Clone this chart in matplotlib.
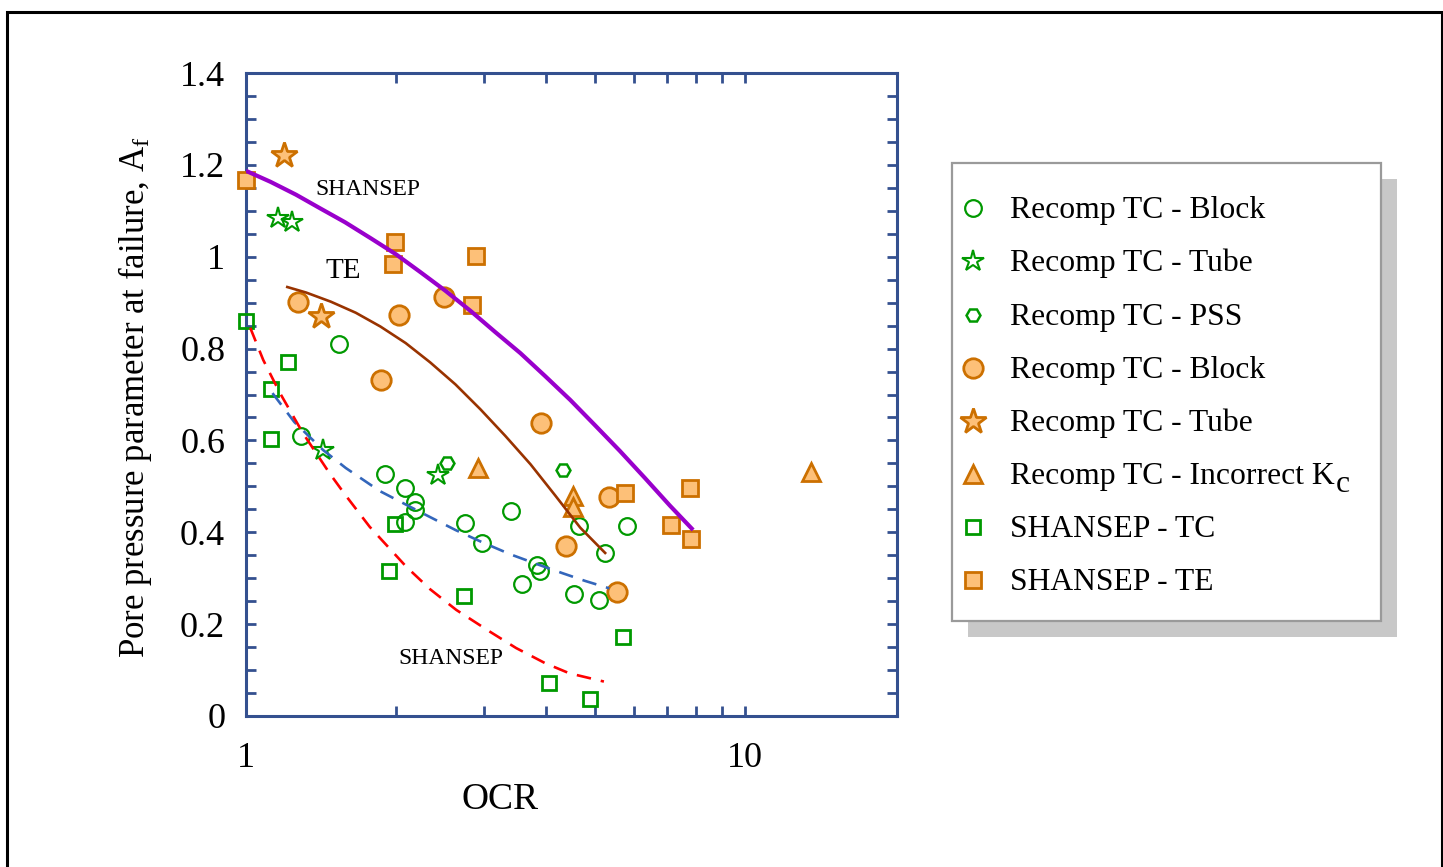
import matplotlib
matplotlib.use('Agg')
import matplotlib.pyplot as plt
from matplotlib.patches import Rectangle
from matplotlib.ticker import FixedLocator, FixedFormatter, NullFormatter

plt.rcParams['font.family'] = ['Liberation Serif', 'DejaVu Serif']
plt.rcParams['mathtext.fontset'] = 'custom'
plt.rcParams['mathtext.rm'] = 'Liberation Serif'
plt.rcParams['mathtext.it'] = 'Liberation Serif:italic'

# ---------------- data (OCR, Af) ----------------
tc_block_ocr = [1.537, 1.288, 1.902, 2.086, 2.178, 2.178, 2.086, 2.754, 2.97,
                3.40, 3.83, 3.88, 3.58, 4.65, 5.80, 5.25, 4.55, 5.10]
tc_block_af = [0.810, 0.610, 0.526, 0.496, 0.467, 0.449, 0.422, 0.421, 0.377,
               0.446, 0.329, 0.316, 0.287, 0.414, 0.414, 0.354, 0.266, 0.253]

tc_tube_ocr = [1.16, 1.234, 1.428, 2.43]
tc_tube_af = [1.085, 1.075, 0.579, 0.525]

tc_pss_ocr = [2.53, 4.32]
tc_pss_af = [0.550, 0.536]

te_block_ocr = [1.273, 2.026, 2.49, 1.862, 3.90, 5.35, 4.38, 5.54]
te_block_af = [0.901, 0.873, 0.913, 0.732, 0.637, 0.477, 0.370, 0.271]

te_tube_ocr = [1.193, 1.417]
te_tube_af = [1.221, 0.871]

kc_ocr = [2.92, 4.53, 4.53, 13.6]
kc_af = [0.539, 0.479, 0.454, 0.532]

sh_tc_ocr = [1.0, 1.215, 1.122, 1.122, 1.986, 1.932, 2.74, 4.05, 5.69, 4.89]
sh_tc_af = [0.861, 0.770, 0.712, 0.604, 0.417, 0.316, 0.262, 0.071, 0.171, 0.036]

sh_te_ocr = [1.0, 1.986, 1.971, 2.89, 2.84, 5.75, 7.75, 7.10, 7.79]
sh_te_af = [1.167, 1.033, 0.984, 1.002, 0.895, 0.485, 0.496, 0.415, 0.385]

# trend curves
sh_te_curve_ocr = [1.0, 1.12, 1.26, 1.41, 1.58, 1.78, 2.0, 2.24, 2.51, 2.82,
                   3.16, 3.55, 3.98, 4.47, 5.01, 5.62, 6.31, 7.08, 7.88]
sh_te_curve_af = [1.187, 1.163, 1.135, 1.105, 1.075, 1.04, 1.005, 0.966, 0.926,
                  0.882, 0.836, 0.79, 0.74, 0.688, 0.633, 0.577, 0.518, 0.458, 0.405]

te_curve_ocr = [1.21, 1.32, 1.48, 1.66, 1.86, 2.09, 2.34, 2.63, 2.95, 3.31,
                3.72, 4.17, 4.68, 5.25]
te_curve_af = [0.934, 0.922, 0.902, 0.878, 0.848, 0.812, 0.77, 0.722, 0.668,
               0.61, 0.548, 0.48, 0.41, 0.355]

tc_curve_ocr = [1.13, 1.25, 1.428, 1.585, 1.853, 2.264, 2.63, 2.98, 3.39,
                3.87, 4.31, 4.79, 5.35]
tc_curve_af = [0.703, 0.64, 0.579, 0.54, 0.49, 0.441, 0.405, 0.378, 0.352,
               0.329, 0.311, 0.294, 0.278]

sh_tc_curve_ocr = [1.02, 1.083, 1.134, 1.17, 1.302, 1.472, 1.585, 1.77, 2.096,
                   2.34, 2.64, 3.09, 3.48, 3.98, 4.45, 5.22]
sh_tc_curve_af = [0.845, 0.775, 0.732, 0.703, 0.615, 0.528, 0.48, 0.412, 0.325,
                  0.276, 0.231, 0.183, 0.148, 0.115, 0.093, 0.075]

x_major = [1, 10]
x_major_labels = ['1', '10']
x_minor = [2, 3, 4, 5, 6, 7, 8, 9]
y_major = [0, 0.2, 0.4, 0.6, 0.8, 1.0, 1.2, 1.4]
y_major_labels = ['0', '0.2', '0.4', '0.6', '0.8', '1', '1.2', '1.4']
y_minor = [i * 0.05 for i in range(29)]

legend_labels = ['Recomp TC - Block', 'Recomp TC - Tube', 'Recomp TC - PSS',
                 'Recomp TC - Block', 'Recomp TC - Tube', 'Recomp TC - Incorrect K',
                 'SHANSEP - TC', 'SHANSEP - TE']

# ---------------- styles ----------------
GREEN = '#009900'
OEDGE = '#CC7000'
OFILL = '#FDC078'
AXBLUE = '#34508F'

styles = [
    dict(marker='o', ms=12, mfc='none', mec=GREEN, mew=1.6),
    dict(marker='*', ms=16, mfc='none', mec=GREEN, mew=1.5),
    dict(marker='H', ms=10, mfc='none', mec=GREEN, mew=1.8),
    dict(marker='o', ms=14, mfc=OFILL, mec=OEDGE, mew=2.0),
    dict(marker='*', ms=19, mfc=OFILL, mec=OEDGE, mew=2.0),
    dict(marker='^', ms=13, mfc=OFILL, mec=OEDGE, mew=2.0),
    dict(marker='s', ms=10, mfc='none', mec=GREEN, mew=2.0),
    dict(marker='s', ms=11, mfc=OFILL, mec=OEDGE, mew=2.0),
]
series = [(tc_block_ocr, tc_block_af), (tc_tube_ocr, tc_tube_af), (tc_pss_ocr, tc_pss_af),
          (te_block_ocr, te_block_af), (te_tube_ocr, te_tube_af), (kc_ocr, kc_af),
          (sh_tc_ocr, sh_tc_af), (sh_te_ocr, sh_te_af)]

W, H = 1443, 867
fig = plt.figure(figsize=(W / 100, H / 100), dpi=100)
fig.patch.set_facecolor('white')

# outer frame
fig.patches.append(Rectangle((7 / W, -0.05), (1442 - 7) / W, 1.05 - 12 / H,
                             transform=fig.transFigure, fill=False,
                             edgecolor='black', lw=2.2, zorder=0))

ax = fig.add_axes([246 / W, 1 - 716 / H, 651 / W, 643 / H])
ax.set_xscale('log')
ax.set_xlim(1, 20.2)
ax.set_ylim(0, 1.4)

for (xs, ys), st in zip(series, styles):
    ax.plot(xs, ys, linestyle='none', clip_on=False, zorder=3, **st)

ax.plot(sh_te_curve_ocr, sh_te_curve_af, color='#9900CC', lw=3.0, zorder=4,
        solid_capstyle='butt', solid_joinstyle='round')
ax.plot(te_curve_ocr, te_curve_af, color='#993300', lw=1.9, zorder=4,
        solid_joinstyle='round')
ax.plot(tc_curve_ocr, tc_curve_af, color='#3366BB', lw=1.9, zorder=4,
        dashes=(5.5, 3.8))
ax.plot(sh_tc_curve_ocr, sh_tc_curve_af, color='#FF0000', lw=1.9, zorder=4,
        dashes=(5.5, 3.8))

ax.text(1.754, 1.147, 'SHANSEP', fontsize=17, ha='center', va='center')
ax.text(1.57, 0.969, 'TE', fontsize=21, ha='center', va='center')
ax.text(2.58, 0.126, 'SHANSEP', fontsize=17, ha='center', va='center')

# axes styling
for sp in ax.spines.values():
    sp.set_color(AXBLUE)
    sp.set_linewidth(2.2)
ax.xaxis.set_major_locator(FixedLocator(x_major))
ax.xaxis.set_major_formatter(FixedFormatter(x_major_labels))
ax.xaxis.set_minor_locator(FixedLocator(x_minor))
ax.xaxis.set_minor_formatter(NullFormatter())
ax.yaxis.set_major_locator(FixedLocator(y_major))
ax.yaxis.set_major_formatter(FixedFormatter(y_major_labels))
ax.yaxis.set_minor_locator(FixedLocator(y_minor))
ax.tick_params(which='both', direction='in', top=True, right=True,
               color=AXBLUE, width=2.0, length=7.2)
ax.tick_params(axis='x', which='major', labelsize=26, pad=19)
ax.tick_params(axis='y', which='major', labelsize=26, pad=15)

ax.text((500 - 246) / 651, (716 - 800) / 643, 'OCR', transform=ax.transAxes,
        fontsize=27, ha='center', va='center')
ax.text((135 - 246) / 651, (716 - 397) / 643,
        r'Pore pressure parameter at failure, A$_\mathregular{f}$',
        transform=ax.transAxes, fontsize=25, rotation=90, ha='center', va='center')

# legend (box with shadow)
fig.patches.append(Rectangle((968 / W, 1 - 637 / H), 429 / W, 458 / H,
                             transform=fig.transFigure, facecolor='#C8C8C8',
                             edgecolor='none', zorder=1))
fig.patches.append(Rectangle((952 / W, 1 - 621 / H), 429 / W, 458 / H,
                             transform=fig.transFigure, facecolor='white',
                             edgecolor='#9A9A9A', lw=1.6, zorder=1))
lax = fig.add_axes([0, 0, 1, 1], facecolor='none')
lax.set_zorder(5)
lax.set_xlim(0, W)
lax.set_ylim(H, 0)
lax.axis('off')
row0, pitch = 208.3, 53.1
for i, (lab, st) in enumerate(zip(legend_labels, styles)):
    yy = row0 + i * pitch
    lax.plot([973], [yy], linestyle='none', **st)
    t = lax.text(1010, yy + 10, lab, fontsize=22.8, ha='left', va='baseline')
    if i == 5:
        lax.annotate('c', xy=(1, 0), xycoords=t, xytext=(0.5, -6),
                     textcoords='offset points', fontsize=22.8,
                     ha='left', va='bottom')

fig.savefig('out.png', dpi=100, facecolor='white')
